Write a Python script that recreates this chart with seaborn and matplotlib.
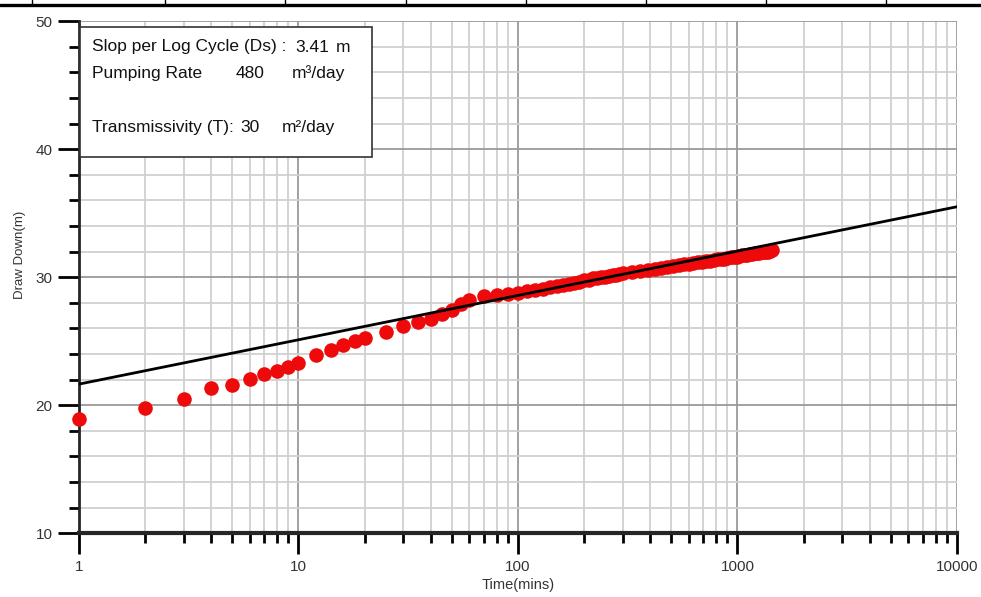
import matplotlib
matplotlib.use('Agg')
import matplotlib.pyplot as plt
import matplotlib.ticker as mticker
from matplotlib.lines import Line2D
import seaborn as sns
import pandas as pd

# pumping test readings
time_min = [1, 2, 3, 4, 5, 6, 7, 8, 9, 10, 12, 14, 16, 18, 20, 25, 30, 35, 40, 45,
            50, 55, 60, 70, 80, 90, 100, 110, 120, 130, 140, 150, 160, 170, 180, 190,
            200, 210, 220, 230, 240, 250, 260, 270, 280, 290, 300, 330, 360, 390, 420,
            450, 480, 510, 540, 570, 600, 630, 660, 690, 720, 750, 780, 810, 840, 870,
            900, 930, 960, 990, 1020, 1050, 1080, 1110, 1140, 1170, 1200, 1230, 1260,
            1290, 1320, 1350, 1380, 1410, 1440]
drawdown_m = [18.9, 19.75, 20.45, 21.35, 21.55, 22.05, 22.45, 22.7, 22.95, 23.3, 23.9,
              24.35, 24.7, 25.0, 25.25, 25.75, 26.2, 26.5, 26.75, 27.15, 27.45, 27.9,
              28.2, 28.5, 28.6, 28.7, 28.8, 28.9, 29.0, 29.1, 29.2, 29.3, 29.4, 29.5,
              29.55, 29.65, 29.75, 29.8, 29.9, 29.95, 30.0, 30.05, 30.1, 30.15, 30.2,
              30.25, 30.3, 30.4, 30.5, 30.6, 30.65, 30.75, 30.8, 30.85, 30.95, 31.0,
              31.05, 31.1, 31.15, 31.2, 31.25, 31.3, 31.35, 31.4, 31.4, 31.45, 31.5,
              31.55, 31.6, 31.6, 31.65, 31.7, 31.7, 31.75, 31.8, 31.8, 31.85, 31.9,
              31.9, 31.95, 31.95, 32.0, 32.0, 32.05, 32.1]

# fitted straight line (Cooper-Jacob)
fit_time = [1, 10000]
fit_drawdown = [21.65, 35.5]

x_ticks = [1, 10, 100, 1000, 10000]
x_tick_labels = ['1', '10', '100', '1000', '10000']
y_ticks = [10, 20, 30, 40, 50]

df = pd.DataFrame({'time': time_min, 'drawdown': drawdown_m})
fit_df = pd.DataFrame({'time': fit_time, 'drawdown': fit_drawdown})

sns.set_style('ticks')
plt.rcParams['font.family'] = ['Liberation Sans', 'DejaVu Sans']

fig = plt.figure(figsize=(9.81, 5.97), dpi=100)
ax = fig.add_axes([0.0805, 0.1067, 0.895, 0.858])
ax.set_xscale('log')

sns.lineplot(data=fit_df, x='time', y='drawdown', color='black', linewidth=2, ax=ax, zorder=4)
sns.scatterplot(data=df, x='time', y='drawdown', color='#ee0a0a', s=110, linewidth=0,
                ax=ax, zorder=3, clip_on=False)

ax.set_xlim(1, 10000)
ax.set_ylim(10, 50)
ax.set_xticks(x_ticks)
ax.set_xticklabels(x_tick_labels)
ax.xaxis.set_minor_locator(mticker.LogLocator(base=10, subs=range(2, 10)))
ax.xaxis.set_minor_formatter(mticker.NullFormatter())
ax.set_yticks(y_ticks)
ax.yaxis.set_minor_locator(mticker.MultipleLocator(2))

ax.grid(which='major', color='#9a9a9a', linewidth=1.3)
ax.grid(which='minor', color='#d0d0d0', linewidth=1.3)
ax.set_axisbelow(True)

for side in ['top', 'right']:
    ax.spines[side].set_visible(False)
ax.spines['left'].set_linewidth(2)
ax.spines['bottom'].set_linewidth(3)

ax.tick_params(axis='both', which='major', length=15, width=2, color='black',
               labelsize=11, labelcolor='#333333', pad=4)
ax.tick_params(axis='both', which='minor', length=7.5, width=2, color='black')

ax.set_xlabel('Time(mins)', fontsize=10.5, color='#333333', labelpad=3)
ax.set_ylabel('Draw Down(m)', fontsize=9.5, color='#333333')
ax.yaxis.set_label_coords(-0.06, 0.543)

# info box
rect = plt.Rectangle((80 / 981, 1 - 157 / 597), 292 / 981, 130 / 597, transform=fig.transFigure,
                     facecolor='white', edgecolor='#333333', linewidth=1.2, zorder=5)
fig.patches.append(rect)
txt = dict(fontsize=12.5, color='#111111', va='baseline', ha='left', zorder=6)
fig.text(92 / 981, 1 - 51.5 / 597, 'Slop per Log Cycle (Ds) :', **txt)
fig.text(295 / 981, 1 - 51.5 / 597, '3.41', **txt)
fig.text(336 / 981, 1 - 51.5 / 597, 'm', **txt)
fig.text(92 / 981, 1 - 78 / 597, 'Pumping Rate', **txt)
fig.text(236 / 981, 1 - 78 / 597, '480', **txt)
fig.text(292 / 981, 1 - 78 / 597, 'm³/day', **txt)
fig.text(92 / 981, 1 - 132 / 597, 'Transmissivity (T):', **txt)
fig.text(240 / 981, 1 - 132 / 597, '30', **txt)
fig.text(282 / 981, 1 - 132 / 597, 'm²/day', **txt)

# cut-off table border at the very top of the page
fig.lines.append(Line2D([0, 1], [1 - 4.7 / 597] * 2, transform=fig.transFigure,
                        color='black', linewidth=2.4))
for px in [32, 165, 285, 406, 526, 646, 766, 886]:
    fig.lines.append(Line2D([px / 981] * 2, [1 - 4.7 / 597, 1], transform=fig.transFigure,
                            color='black', linewidth=1))

fig.savefig('out.png', dpi=100)
